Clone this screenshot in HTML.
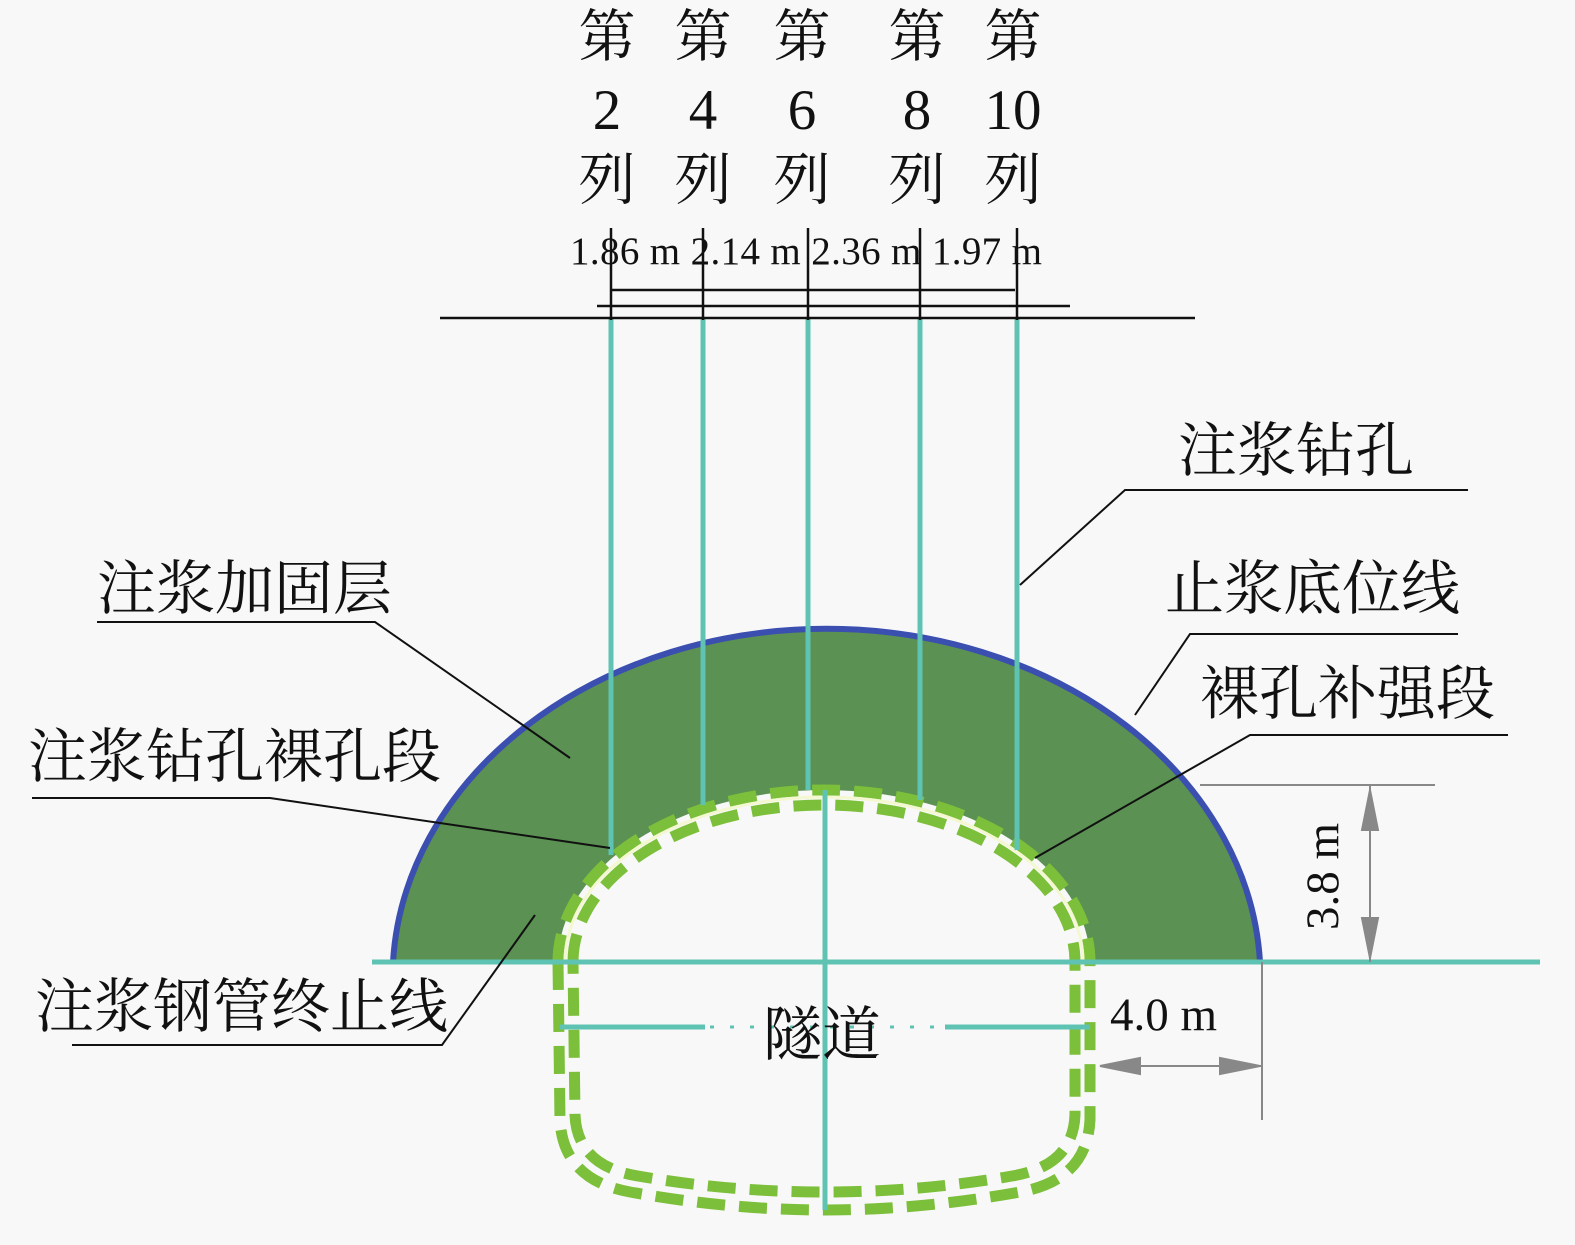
<!DOCTYPE html>
<html><head><meta charset="utf-8"><style>
body{margin:0;background:#f8f8f8;}
svg text{font-family:"Liberation Serif","Noto Serif CJK SC",serif;fill:#111;}
</style></head><body>
<svg width="1575" height="1240" viewBox="0 0 1575 1240" xmlns="http://www.w3.org/2000/svg">
<rect width="1575" height="1240" fill="#f8f8f8"/>
<path d="M393,962 A434,350 0 0 1 1260,962 L1090,962 A266,172 0 0 0 558,962 Z" fill="#5b9152"/>
<path d="M393,962 A434,350 0 0 1 1260,962" fill="none" stroke="#3a4fb0" stroke-width="6"/>
<g fill="none" stroke-linecap="butt">
<path d="M558,962 A266,172 0 0 1 1090,962 L1090,1120 Q1087,1180 1020,1192 Q920,1210 825,1210 Q730,1210 630,1192 Q563,1180 560,1120 Z" stroke="#7cbf3a" stroke-width="11" stroke-dasharray="28 14"/>
<path d="M573,962 A251,157 0 0 1 1075,962 L1075,1115 Q1073,1166 1012,1176 Q920,1192 825,1192 Q730,1192 638,1176 Q577,1166 575,1115 Z" stroke="#7cbf3a" stroke-width="11" stroke-dasharray="28 14"/>
<path d="M565,962 A259,165 0 0 1 1083,962" stroke="#f4f8d0" stroke-width="3"/>
</g>
<g stroke="#5fc3b3" stroke-width="5">
<line x1="611" y1="318" x2="611" y2="855"/>
<line x1="703" y1="318" x2="703" y2="805"/>
<line x1="808" y1="318" x2="808" y2="790"/>
<line x1="920" y1="318" x2="920" y2="800"/>
<line x1="1017" y1="318" x2="1017" y2="850"/>
<line x1="825" y1="790" x2="825" y2="1210"/>
<line x1="372" y1="962" x2="1540" y2="962"/>
<line x1="560" y1="1027" x2="705" y2="1027"/>
<line x1="945" y1="1027" x2="1090" y2="1027"/>
</g>
<g stroke="#5fc3b3" stroke-width="3" stroke-dasharray="4 16"><line x1="710" y1="1027" x2="940" y2="1027"/></g>
<g stroke="#111" stroke-width="2.5">
<line x1="440" y1="318" x2="1195" y2="318"/>
<line x1="597" y1="306" x2="1070" y2="306"/>
<line x1="612" y1="290" x2="1015" y2="290"/>
<line x1="611" y1="228" x2="611" y2="320"/>
<line x1="703" y1="228" x2="703" y2="320"/>
<line x1="808" y1="228" x2="808" y2="320"/>
<line x1="920" y1="228" x2="920" y2="320"/>
<line x1="1017" y1="228" x2="1017" y2="320"/>
</g>
<g stroke="#111" stroke-width="2" fill="none">
<polyline points="1468,490 1125,490 1020,585"/>
<polyline points="1458,634 1190,634 1135,715"/>
<polyline points="1508,735 1250,735 1035,858"/>
<polyline points="97,622 375,622 570,758"/>
<polyline points="32,798 270,798 610,848"/>
<polyline points="72,1045 442,1045 535,915"/>
</g>
<g stroke="#888" stroke-width="2" fill="#888">
<line x1="1200" y1="785" x2="1435" y2="785"/>
<line x1="1370" y1="785" x2="1370" y2="962"/>
<polygon points="1370,790 1362,830 1378,830"/>
<polygon points="1370,958 1362,918 1378,918"/>
<line x1="1262" y1="962" x2="1262" y2="1120"/>
<line x1="1100" y1="1066" x2="1262" y2="1066"/>
<polygon points="1100,1066 1140,1058 1140,1074"/>
<polygon points="1260,1066 1220,1058 1220,1074"/>
</g>
<g font-size="57" text-anchor="middle">
<text x="607" y="56">第</text><text x="703" y="56">第</text><text x="802" y="56">第</text><text x="917" y="56">第</text><text x="1013" y="56">第</text>
<text x="607" y="129">2</text><text x="703" y="129">4</text><text x="802" y="129">6</text><text x="917" y="129">8</text><text x="1013" y="129">10</text>
<text x="607" y="199">列</text><text x="703" y="199">列</text><text x="802" y="199">列</text><text x="917" y="199">列</text><text x="1013" y="199">列</text>
</g>
<text x="570" y="264" font-size="39" textLength="472">1.86 m 2.14 m 2.36 m 1.97 m</text>
<g font-size="59">
<text x="1178" y="471">注浆钻孔</text>
<text x="1165" y="609">止浆底位线</text>
<text x="1200" y="714">裸孔补强段</text>
<text x="97" y="609">注浆加固层</text>
<text x="28" y="777">注浆钻孔裸孔段</text>
<text x="35" y="1027">注浆钢管终止线</text>
<text x="763" y="1055">隧道</text>
</g>
<text x="1110" y="1030" font-size="47">4.0 m</text>
<text transform="translate(1338,930) rotate(-90)" font-size="47">3.8 m</text>
</svg>
</body></html>
